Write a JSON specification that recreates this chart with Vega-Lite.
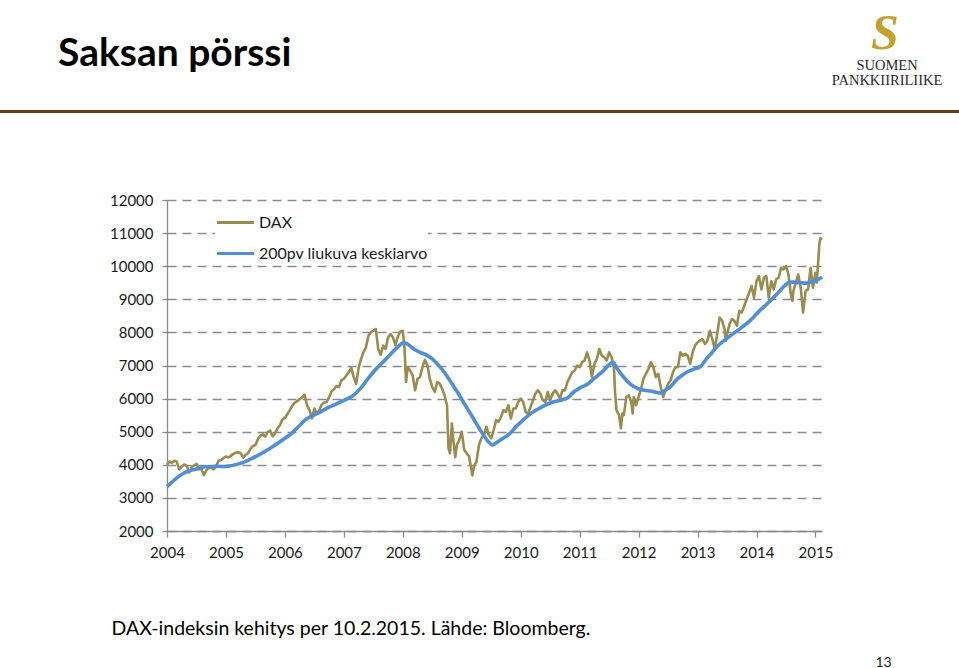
{
"$schema": "https://vega.github.io/schema/vega-lite/v6.json",
"width": 655, "height": 331,
"autosize": {"type": "none"},
"padding": {"left": 167, "top": 200, "right": 137, "bottom": 137},
"background": "white",
"config": {"view": {"stroke": null}},
"datasets": {
"dax": [
{"t":2004.000,"v":4000},{"t":2004.042,"v":4100},{"t":2004.083,"v":4060},{"t":2004.125,"v":4120},{"t":2004.167,"v":4090},{"t":2004.208,"v":3860},{"t":2004.250,"v":3950},{"t":2004.292,"v":4010},{"t":2004.333,"v":3970},{"t":2004.375,"v":3770},{"t":2004.417,"v":3930},{"t":2004.458,"v":3980},{"t":2004.500,"v":4030},{"t":2004.542,"v":3860},{"t":2004.583,"v":3880},{"t":2004.625,"v":3690},{"t":2004.667,"v":3830},{"t":2004.708,"v":3900},{"t":2004.750,"v":3930},{"t":2004.792,"v":3860},{"t":2004.833,"v":3960},{"t":2004.875,"v":4120},{"t":2004.917,"v":4150},{"t":2004.958,"v":4200},
{"t":2005.000,"v":4250},{"t":2005.042,"v":4220},{"t":2005.083,"v":4270},{"t":2005.125,"v":4330},{"t":2005.167,"v":4370},{"t":2005.208,"v":4380},{"t":2005.250,"v":4350},{"t":2005.292,"v":4220},{"t":2005.333,"v":4300},{"t":2005.375,"v":4350},{"t":2005.417,"v":4480},{"t":2005.458,"v":4570},{"t":2005.500,"v":4600},{"t":2005.542,"v":4780},{"t":2005.583,"v":4880},{"t":2005.625,"v":4920},{"t":2005.667,"v":4850},{"t":2005.708,"v":4990},{"t":2005.750,"v":5030},{"t":2005.792,"v":4860},{"t":2005.833,"v":4950},{"t":2005.875,"v":5100},{"t":2005.917,"v":5200},{"t":2005.958,"v":5370},
{"t":2006.000,"v":5420},{"t":2006.042,"v":5530},{"t":2006.083,"v":5650},{"t":2006.125,"v":5780},{"t":2006.167,"v":5880},{"t":2006.208,"v":5920},{"t":2006.250,"v":5980},{"t":2006.292,"v":6040},{"t":2006.333,"v":6120},{"t":2006.375,"v":5800},{"t":2006.417,"v":5650},{"t":2006.458,"v":5400},{"t":2006.500,"v":5700},{"t":2006.542,"v":5550},{"t":2006.583,"v":5650},{"t":2006.625,"v":5820},{"t":2006.667,"v":5880},{"t":2006.708,"v":5900},{"t":2006.750,"v":6040},{"t":2006.792,"v":6220},{"t":2006.833,"v":6280},{"t":2006.875,"v":6380},{"t":2006.917,"v":6350},{"t":2006.958,"v":6550},
{"t":2007.000,"v":6600},{"t":2007.042,"v":6700},{"t":2007.083,"v":6800},{"t":2007.125,"v":6930},{"t":2007.167,"v":6650},{"t":2007.208,"v":6450},{"t":2007.250,"v":6920},{"t":2007.292,"v":7200},{"t":2007.333,"v":7400},{"t":2007.375,"v":7550},{"t":2007.417,"v":7900},{"t":2007.458,"v":8000},{"t":2007.500,"v":8050},{"t":2007.542,"v":8100},{"t":2007.583,"v":7500},{"t":2007.625,"v":7320},{"t":2007.667,"v":7600},{"t":2007.708,"v":7500},{"t":2007.750,"v":7850},{"t":2007.792,"v":7950},{"t":2007.833,"v":7850},{"t":2007.875,"v":7620},{"t":2007.917,"v":7880},{"t":2007.958,"v":8020},
{"t":2008.000,"v":8050},{"t":2008.030,"v":7500},{"t":2008.055,"v":6500},{"t":2008.083,"v":6950},{"t":2008.125,"v":6850},{"t":2008.167,"v":6700},{"t":2008.208,"v":6250},{"t":2008.250,"v":6600},{"t":2008.292,"v":6650},{"t":2008.333,"v":6950},{"t":2008.375,"v":7170},{"t":2008.417,"v":7000},{"t":2008.458,"v":6600},{"t":2008.500,"v":6350},{"t":2008.542,"v":6200},{"t":2008.583,"v":6500},{"t":2008.625,"v":6450},{"t":2008.667,"v":6300},{"t":2008.708,"v":6100},{"t":2008.750,"v":5800},{"t":2008.775,"v":4500},{"t":2008.800,"v":4350},{"t":2008.833,"v":5250},{"t":2008.860,"v":4700},{"t":2008.890,"v":4230},{"t":2008.917,"v":4600},{"t":2008.958,"v":4750},
{"t":2009.000,"v":5000},{"t":2009.042,"v":4450},{"t":2009.083,"v":4350},{"t":2009.125,"v":4250},{"t":2009.180,"v":3680},{"t":2009.208,"v":3950},{"t":2009.250,"v":4100},{"t":2009.292,"v":4600},{"t":2009.333,"v":4800},{"t":2009.375,"v":4900},{"t":2009.417,"v":5150},{"t":2009.458,"v":4900},{"t":2009.500,"v":4800},{"t":2009.542,"v":5050},{"t":2009.583,"v":5350},{"t":2009.625,"v":5300},{"t":2009.667,"v":5450},{"t":2009.708,"v":5650},{"t":2009.750,"v":5600},{"t":2009.792,"v":5800},{"t":2009.833,"v":5400},{"t":2009.875,"v":5700},{"t":2009.917,"v":5700},{"t":2009.958,"v":5900},
{"t":2010.000,"v":6000},{"t":2010.042,"v":5900},{"t":2010.083,"v":5600},{"t":2010.125,"v":5550},{"t":2010.167,"v":5750},{"t":2010.208,"v":5950},{"t":2010.250,"v":6150},{"t":2010.292,"v":6250},{"t":2010.333,"v":6150},{"t":2010.375,"v":5950},{"t":2010.417,"v":5900},{"t":2010.458,"v":6200},{"t":2010.500,"v":5950},{"t":2010.542,"v":6150},{"t":2010.583,"v":6250},{"t":2010.625,"v":6150},{"t":2010.667,"v":6000},{"t":2010.708,"v":6250},{"t":2010.750,"v":6250},{"t":2010.792,"v":6500},{"t":2010.833,"v":6650},{"t":2010.875,"v":6800},{"t":2010.917,"v":6850},{"t":2010.958,"v":7000},
{"t":2011.000,"v":6950},{"t":2011.042,"v":7100},{"t":2011.083,"v":7150},{"t":2011.125,"v":7400},{"t":2011.167,"v":7150},{"t":2011.208,"v":6650},{"t":2011.250,"v":7050},{"t":2011.292,"v":7200},{"t":2011.333,"v":7500},{"t":2011.375,"v":7300},{"t":2011.417,"v":7250},{"t":2011.458,"v":7150},{"t":2011.500,"v":7400},{"t":2011.542,"v":7250},{"t":2011.583,"v":6900},{"t":2011.600,"v":6200},{"t":2011.625,"v":5650},{"t":2011.667,"v":5500},{"t":2011.700,"v":5100},{"t":2011.725,"v":5550},{"t":2011.750,"v":5500},{"t":2011.792,"v":6050},{"t":2011.833,"v":6100},{"t":2011.875,"v":5900},{"t":2011.900,"v":5550},{"t":2011.917,"v":6050},{"t":2011.958,"v":5800},
{"t":2012.000,"v":6050},{"t":2012.042,"v":6300},{"t":2012.083,"v":6600},{"t":2012.125,"v":6750},{"t":2012.167,"v":6900},{"t":2012.208,"v":7100},{"t":2012.250,"v":6950},{"t":2012.292,"v":6650},{"t":2012.333,"v":6750},{"t":2012.375,"v":6350},{"t":2012.417,"v":6050},{"t":2012.458,"v":6250},{"t":2012.500,"v":6450},{"t":2012.542,"v":6550},{"t":2012.583,"v":6800},{"t":2012.625,"v":6950},{"t":2012.667,"v":6950},{"t":2012.708,"v":7400},{"t":2012.750,"v":7300},{"t":2012.792,"v":7350},{"t":2012.833,"v":7300},{"t":2012.875,"v":7050},{"t":2012.917,"v":7400},{"t":2012.958,"v":7600},
{"t":2013.000,"v":7700},{"t":2013.042,"v":7750},{"t":2013.083,"v":7800},{"t":2013.125,"v":7650},{"t":2013.167,"v":7750},{"t":2013.208,"v":8050},{"t":2013.250,"v":7800},{"t":2013.292,"v":7500},{"t":2013.333,"v":7950},{"t":2013.375,"v":8450},{"t":2013.417,"v":8350},{"t":2013.458,"v":8100},{"t":2013.480,"v":7750},{"t":2013.500,"v":7950},{"t":2013.542,"v":8250},{"t":2013.583,"v":8400},{"t":2013.625,"v":8350},{"t":2013.667,"v":8200},{"t":2013.708,"v":8650},{"t":2013.750,"v":8600},{"t":2013.792,"v":8800},{"t":2013.833,"v":9000},{"t":2013.875,"v":9200},{"t":2013.917,"v":9400},{"t":2013.958,"v":9050},
{"t":2014.000,"v":9550},{"t":2014.042,"v":9700},{"t":2014.083,"v":9300},{"t":2014.125,"v":9650},{"t":2014.167,"v":9700},{"t":2014.208,"v":9050},{"t":2014.250,"v":9550},{"t":2014.292,"v":9300},{"t":2014.333,"v":9600},{"t":2014.375,"v":9650},{"t":2014.417,"v":9950},{"t":2014.458,"v":9900},{"t":2014.500,"v":10000},{"t":2014.542,"v":9750},{"t":2014.583,"v":9150},{"t":2014.610,"v":8950},{"t":2014.625,"v":9250},{"t":2014.667,"v":9500},{"t":2014.708,"v":9750},{"t":2014.750,"v":9350},{"t":2014.790,"v":8600},{"t":2014.833,"v":9250},{"t":2014.875,"v":9300},{"t":2014.917,"v":9950},{"t":2014.958,"v":9350},
{"t":2015.000,"v":9800},{"t":2015.020,"v":9500},{"t":2015.042,"v":10000},{"t":2015.065,"v":10650},{"t":2015.083,"v":10850},{"t":2015.111,"v":10800}
],
"ma": [
{"t":2004.00,"v":3340},{"t":2004.10,"v":3500},{"t":2004.20,"v":3650},{"t":2004.30,"v":3760},{"t":2004.42,"v":3840},{"t":2004.55,"v":3900},{"t":2004.65,"v":3940},{"t":2004.80,"v":3950},{"t":2004.95,"v":3950},
{"t":2005.05,"v":3960},{"t":2005.20,"v":4020},{"t":2005.32,"v":4090},{"t":2005.45,"v":4200},{"t":2005.61,"v":4350},{"t":2005.75,"v":4500},{"t":2005.88,"v":4650},
{"t":2006.00,"v":4800},{"t":2006.12,"v":4960},{"t":2006.24,"v":5170},{"t":2006.34,"v":5350},{"t":2006.45,"v":5470},{"t":2006.56,"v":5560},{"t":2006.70,"v":5700},{"t":2006.85,"v":5820},
{"t":2007.00,"v":5950},{"t":2007.14,"v":6070},{"t":2007.28,"v":6300},{"t":2007.41,"v":6600},{"t":2007.55,"v":6900},{"t":2007.70,"v":7170},{"t":2007.85,"v":7450},{"t":2007.95,"v":7620},
{"t":2008.02,"v":7690},{"t":2008.10,"v":7620},{"t":2008.20,"v":7480},{"t":2008.33,"v":7370},{"t":2008.42,"v":7300},{"t":2008.50,"v":7200},{"t":2008.60,"v":7020},{"t":2008.72,"v":6760},{"t":2008.83,"v":6460},{"t":2008.94,"v":6160},
{"t":2009.06,"v":5800},{"t":2009.18,"v":5450},{"t":2009.27,"v":5180},{"t":2009.35,"v":4950},{"t":2009.44,"v":4720},{"t":2009.52,"v":4600},{"t":2009.60,"v":4680},{"t":2009.70,"v":4800},{"t":2009.82,"v":4950},{"t":2009.93,"v":5170},
{"t":2010.04,"v":5350},{"t":2010.18,"v":5560},{"t":2010.33,"v":5720},{"t":2010.45,"v":5830},{"t":2010.58,"v":5910},{"t":2010.70,"v":5960},{"t":2010.79,"v":6020},{"t":2010.90,"v":6200},
{"t":2011.02,"v":6340},{"t":2011.13,"v":6430},{"t":2011.24,"v":6600},{"t":2011.35,"v":6760},{"t":2011.46,"v":6950},{"t":2011.56,"v":7100},{"t":2011.64,"v":6900},{"t":2011.74,"v":6660},{"t":2011.86,"v":6440},{"t":2011.98,"v":6310},
{"t":2012.10,"v":6250},{"t":2012.20,"v":6230},{"t":2012.37,"v":6170},{"t":2012.45,"v":6250},{"t":2012.54,"v":6360},{"t":2012.65,"v":6580},{"t":2012.75,"v":6720},{"t":2012.83,"v":6810},{"t":2012.95,"v":6900},
{"t":2013.05,"v":6970},{"t":2013.15,"v":7200},{"t":2013.25,"v":7400},{"t":2013.33,"v":7570},{"t":2013.47,"v":7780},{"t":2013.61,"v":7970},{"t":2013.75,"v":8150},{"t":2013.90,"v":8370},
{"t":2014.05,"v":8650},{"t":2014.19,"v":8880},{"t":2014.33,"v":9130},{"t":2014.46,"v":9380},{"t":2014.54,"v":9500},{"t":2014.62,"v":9520},{"t":2014.75,"v":9500},{"t":2014.85,"v":9490},{"t":2014.95,"v":9540},
{"t":2015.05,"v":9600},{"t":2015.111,"v":9670}
]
},
"layer": [
{"data": {"name": "dax"},
 "mark": {"type": "line", "strokeWidth": 2.6, "strokeJoin": "round"},
 "encoding": {
  "x": {"field": "t", "type": "quantitative",
   "scale": {"domain": [2004, 2015.111], "nice": false, "zero": false},
   "axis": {"values": [2004,2005,2006,2007,2008,2009,2010,2011,2012,2013,2014,2015], "tickCount": 20, "format": "d", "grid": false, "labelFlush": false, "labelOverlap": false,
    "domainColor": "#8a8a8a", "domainWidth": 1.3, "tickColor": "#8a8a8a", "tickWidth": 1.3, "tickSize": 6, "labelPadding": 8, "labelBaseline": "top",
    "labelFont": "Lato", "labelFontSize": 15, "labelColor": "#1a1a1a",
    "title": "DAX-indeksin kehitys per 10.2.2015. Lähde: Bloomberg.", "titleX": -56, "titleY": 103, "titleAlign": "left", "titleAnchor": "start", "titleBaseline": "alphabetic",
    "titleFont": "Lato", "titleFontSize": 19.5, "titleFontWeight": "normal", "titleColor": "#000000"}},
  "y": {"field": "v", "type": "quantitative",
   "scale": {"domain": [2000, 12000], "nice": false, "zero": false},
   "axis": {"values": [2000,3000,4000,5000,6000,7000,8000,9000,10000,11000,12000], "tickCount": 20, "format": "d", "grid": true, "gridDash": [9, 6], "gridColor": "#8a8a8a", "gridWidth": 1.3,
    "labelFlush": false, "labelOverlap": false,
    "domainColor": "#8a8a8a", "domainWidth": 1.3, "tickColor": "#8a8a8a", "tickWidth": 1.3, "tickSize": 5, "labelPadding": 9,
    "labelFont": "Lato", "labelFontSize": 15, "labelColor": "#1a1a1a",
    "title": "13", "titleAngle": 0, "titleX": 708, "titleY": 466, "titleAlign": "left", "titleAnchor": "start", "titleBaseline": "alphabetic",
    "titleFont": "Lato", "titleFontSize": 14, "titleFontWeight": "normal", "titleColor": "#1a1a1a"}},
  "color": {"datum": "DAX", "type": "nominal",
   "scale": {"domain": ["DAX", "200pv liukuva keskiarvo"], "range": ["#998c4d", "#4f8fd8"]},
   "legend": {"orient": "none", "legendX": 48, "legendY": 2, "direction": "vertical", "title": null, "fillColor": "white", "padding": 0,
    "symbolType": "stroke", "symbolSize": 1369, "symbolStrokeWidth": 3.2, "labelFont": "Lato", "labelFontSize": 16, "labelColor": "#1a1a1a", "labelOffset": 3, "labelLimit": 400, "rowPadding": 2}}
 }},
{"data": {"name": "ma"},
 "mark": {"type": "line", "strokeWidth": 3.6, "interpolate": "monotone", "strokeJoin": "round"},
 "encoding": {
  "x": {"field": "t", "type": "quantitative"},
  "y": {"field": "v", "type": "quantitative"},
  "color": {"datum": "200pv liukuva keskiarvo", "type": "nominal"}
 }},
{"data": {"values": [{}]},
 "mark": {"type": "rule", "stroke": "#6b3a1c", "strokeWidth": 3},
 "encoding": {"x": {"datum": 2001.167}, "x2": {"datum": 2017.44}, "y": {"datum": 14675}}},
{"data": {"values": [{}]},
 "mark": {"type": "text", "text": "Saksan pörssi", "font": "Lato", "fontSize": 39, "fontWeight": "bold", "align": "left", "baseline": "alphabetic", "color": "#000000"},
 "encoding": {"x": {"datum": 2002.151}, "y": {"datum": 16048}}},
{"data": {"values": [{}]},
 "mark": {"type": "text", "text": ["SUOMEN", "PANKKIIRILIIKE"], "font": "Liberation Serif", "fontSize": 14.5, "lineHeight": 14.5, "align": "center", "baseline": "alphabetic", "color": "#2b2b2b"},
 "encoding": {"x": {"datum": 2016.214}, "y": {"datum": 15927}}},
{"data": {"values": [{}]},
 "mark": {"type": "text", "text": "S", "font": "Liberation Serif", "fontStyle": "italic", "fontWeight": "bold", "fontSize": 50, "align": "center", "baseline": "alphabetic", "color": "#c4a02e"},
 "encoding": {"x": {"datum": 2016.18}, "y": {"datum": 16562}}}
]
}
